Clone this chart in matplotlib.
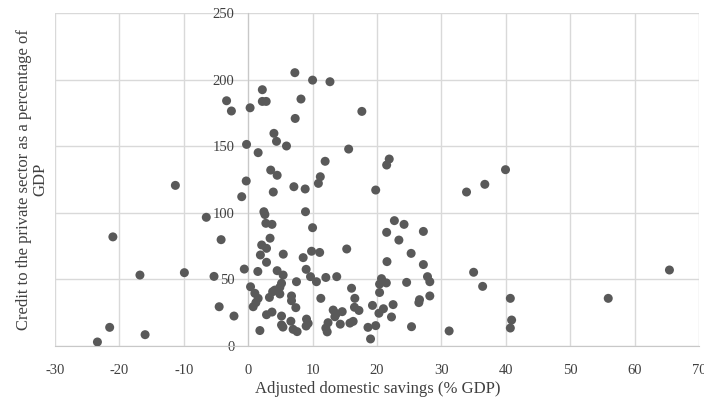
import matplotlib
matplotlib.use("Agg")
import matplotlib.pyplot as plt

# Adjusted domestic savings (% GDP)
savings = [
    -23.4, -21.5, -16.0, -21.0, -16.8, -9.9, -11.3, -6.5, -5.3, -4.5, -4.2, -3.35, -2.6, -2.2,
    -1.0, -0.6, -0.3, -0.25,
    0.3, 1.55, 2.2, 2.2, 2.8, 3.5, 4.5, 4.0, 4.4, 5.95, 7.25, 10.0, 12.7, 8.2, 7.3, 17.65,
    15.6, 11.95, 21.9, 21.5, 11.2, 10.9, 7.1, 8.85, 3.9, 19.8, 2.44, 2.6, 8.9, 2.75, 3.7,
    10.0, 22.7, 24.2, 21.5, 27.2, 23.4, 3.4, 2.1, 2.85, 1.9, 2.85, 5.45, 8.54, 9.84, 11.1,
    15.3, 25.3, 21.55, 27.2, 1.5, 4.5, 5.43, 9.0, 9.68, 10.6, 12.06, 13.75, 7.5, 5.18, 4.92,
    4.14, 3.8, 3.3, 4.92, 6.73, 6.73, 7.4, 11.28, 0.37, 1.04, 1.55, 0.78, 1.2, 2.85, 3.7,
    5.18, 5.18, 5.4, 6.63, 6.98, 7.6, 9.06, 9.31, 9.0, 1.82, 13.2, 13.7, 14.6, 13.46, 12.4,
    12.06, 12.27, 14.3, 15.8, 16.3, 16.05, 16.56, 16.5, 17.2, 19.3, 20.7, 20.4, 21.45, 20.4,
    24.6, 27.84, 28.2, 28.2, 26.6, 26.5, 22.5, 21.0, 20.3, 22.25, 25.36, 19.8, 18.6, 19.0,
    31.2, 39.95, 36.74, 33.9, 35.0, 36.4, 40.7, 40.9, 40.7, 55.9, 65.4,
]

# Credit to the private sector (% of GDP)
credit = [
    3, 14, 8.5, 82, 53.3, 55.1, 120.7, 96.7, 52.3, 29.5, 79.9, 184.3, 176.6, 22.5,
    112.2, 57.8, 124, 151.5,
    179, 145.3, 192.6, 183.8, 183.8, 132.2, 128.3, 159.8, 153.8, 150.3, 205.4, 199.8, 198.6, 185.6, 171, 176.3,
    148, 138.8, 140.5, 136, 127.2, 122.2, 119.7, 118, 115.7, 117.2, 100.9, 98.8, 100.9, 92.2, 91.4,
    88.9, 94.2, 91.4, 85.4, 86.1, 79.6, 81, 75.9, 73.4, 68.4, 62.9, 69, 66.4, 71.2, 70.3,
    72.9, 69.6, 63.4, 61.2, 56, 56.6, 53.3, 57.6, 52.1, 48.3, 51.5, 52.1, 48.3, 47.1, 44.1,
    42, 40.8, 36.5, 39.1, 37.6, 34, 28.8, 35.8, 44.5, 39.6, 35.8, 29.5, 32.6, 23.5, 25.5,
    22.5, 15.8, 14.2, 18.6, 12.5, 10.8, 20.2, 17, 15, 11.6, 27, 24.3, 25.8, 22, 17.5,
    13.5, 10.6, 16.4, 17.2, 18.5, 43.4, 35.8, 29.1, 26.7, 30.5, 50.6, 46.5, 47.4, 40.2,
    47.8, 52.1, 48.3, 37.6, 34.8, 32.6, 31.1, 28, 24.6, 21.8, 14.5, 15.3, 14, 5.3,
    11.3, 132.5, 121.5, 115.7, 55.4, 44.8, 35.8, 19.5, 13.5, 35.8, 57.1,
]

x_ticks = [-30, -20, -10, 0, 10, 20, 30, 40, 50, 60, 70]
y_ticks = [0, 50, 100, 150, 200, 250]

plt.rcParams['font.family'] = ['Liberation Serif', 'DejaVu Serif']

fig = plt.figure(figsize=(7.04, 4.04), dpi=100)
ax = fig.add_axes([0.078, 0.1436, 0.915, 0.8234])

ax.scatter(savings, credit, s=42, color='#595959', edgecolors='none', zorder=3)

ax.set_xlim(-30, 70)
ax.set_ylim(0, 250)
ax.set_xticks(x_ticks)
ax.set_yticks(y_ticks)
ax.set_xticklabels([str(v) for v in x_ticks])
ax.set_yticklabels([str(v) for v in y_ticks])

ax.grid(True, color='#d9d9d9', linewidth=1.0, zorder=0)
ax.set_axisbelow(True)

for side in ['top', 'right']:
    ax.spines[side].set_visible(False)
ax.spines['left'].set_position(('data', 0))
ax.spines['left'].set_color('#c8c8c8')
ax.spines['bottom'].set_color('#c8c8c8')
ax.spines['left'].set_zorder(1)

ax.tick_params(axis='x', length=0, pad=13, labelsize=10.5, colors='#404040')
ax.tick_params(axis='y', length=0, pad=10, labelsize=10.5, colors='#404040')

fig.text(0.536, 0.037, 'Adjusted domestic savings (% GDP)', ha='center', va='center',
         fontsize=12, color='#404040')
fig.text(0.046, 0.555, 'Credit to the private sector as a percentage of\nGDP',
         ha='center', va='center', rotation=90, fontsize=12, color='#404040',
         linespacing=1.05)

fig.savefig('out.png', dpi=100)
